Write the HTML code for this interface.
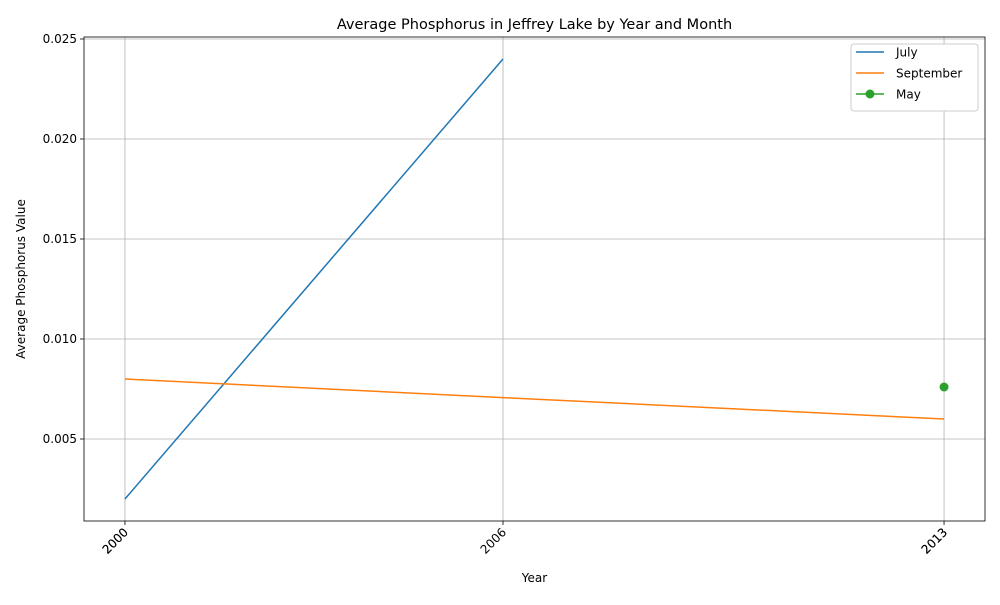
<!DOCTYPE html>
<html><head><meta charset="utf-8"><style>
body{margin:0;background:#fff;font-family:"Liberation Sans","DejaVu Sans",sans-serif}
svg text{font-family:"DejaVu Sans","Liberation Sans",sans-serif}
</style></head><body>
<svg id="c" width="1000" height="600" xmlns="http://www.w3.org/2000/svg"></svg>
<script>
const years=[2000,2006,2013];
const julyYears=[2000,2006];
const julyVals=[0.002,0.024];
const sepYears=[2000,2006,2013];
const sepVals=[0.008,0.00707,0.006];
const mayYears=[2013];
const mayVals=[0.0076];
const yTicks=[0.005,0.010,0.015,0.020,0.025];
const yTickLabels=["0.005","0.010","0.015","0.020","0.025"];

const L=84,R=985,T=37,B=521;
const xMin=1999.35,xMax=2013.65,yMin=0.0009,yMax=0.0251;
const X=v=>L+(v-xMin)/(xMax-xMin)*(R-L);
const Y=v=>B-(v-yMin)/(yMax-yMin)*(B-T);
const svg=document.getElementById('c');
const NS='http://www.w3.org/2000/svg';
function mk(tag,attrs,txt){const e=document.createElementNS(NS,tag);for(const k in attrs)e.setAttribute(k,attrs[k]);if(txt!=null)e.textContent=txt;svg.appendChild(e);return e;}

// grid
yTicks.forEach((t,i)=>{
  const g=mk('line',{x1:L,x2:R,y1:Y(t),y2:Y(t),stroke:'#b0b0b0','stroke-width':0.8});
  
  
  const tk=mk('line',{x1:L-4,x2:L,y1:Y(t),y2:Y(t),stroke:'#000','stroke-width':0.8});
  
  
  const lb=mk('text',{x:L-7,y:Y(t)+4,'text-anchor':'end','font-size':12},yTickLabels[i]);
  
  
});
years.forEach(yr=>{
  const g=mk('line',{x1:X(yr),x2:X(yr),y1:T,y2:B,stroke:'#b0b0b0','stroke-width':0.8});
  
  
  const tk=mk('line',{x1:X(yr),x2:X(yr),y1:B,y2:B+4,stroke:'#000','stroke-width':0.8});
  
  
  const reps=(yr===2006)?1:2;
  for(let r=0;r<reps;r++){
    const lb=mk('text',{x:X(yr)+4,y:B+12,'text-anchor':'end','font-size':12,transform:`rotate(-45 ${X(yr)+4} ${B+12})`},String(yr));
    
    
  }
});
function line(xs,vs,color,name){
  const p=mk('polyline',{points:xs.map((x,i)=>X(x)+','+Y(vs[i])).join(' '),fill:'none',stroke:color,'stroke-width':1.5});
  
  
}
line(julyYears,julyVals,'#1f77b4','july-line');
line(sepYears,sepVals,'#ff7f0e','september-line');
mayYears.forEach((yr,i)=>{
  const c=mk('circle',{cx:X(yr),cy:Y(mayVals[i]),r:4.5,fill:'#2ca02c'});
  
  
});
const fr=mk('rect',{x:L,y:T,width:R-L,height:B-T,fill:'none',stroke:'#000','stroke-width':0.8});


const tt=mk('text',{x:(L+R)/2,y:29,'text-anchor':'middle','font-size':14.5},'Average Phosphorus in Jeffrey Lake by Year and Month');


const xt=mk('text',{x:(L+R)/2,y:582,'text-anchor':'middle','font-size':12},'Year');


const yt=mk('text',{x:25,y:(T+B)/2,'text-anchor':'middle','font-size':12,transform:`rotate(-90 25 ${(T+B)/2})`},'Average Phosphorus Value');


// legend
const lg=mk('rect',{x:851,y:44,width:127,height:67,fill:'#fff',stroke:'#ccc','stroke-width':1,rx:3});


const ent=[['July','#1f77b4',false],['September','#ff7f0e',false],['May','#2ca02c',true]];
ent.forEach((e,i)=>{
  const y=52+i*21;
  const l=mk('line',{x1:856,x2:884,y1:y,y2:y,stroke:e[1],'stroke-width':1.5});
  
  
  if(e[2]){const c=mk('circle',{cx:870,cy:y,r:4.5,fill:e[1]});}
  const t=mk('text',{x:896,y:y+4.5,'font-size':12},e[0]);
  
  
});
</script>
</body></html>
